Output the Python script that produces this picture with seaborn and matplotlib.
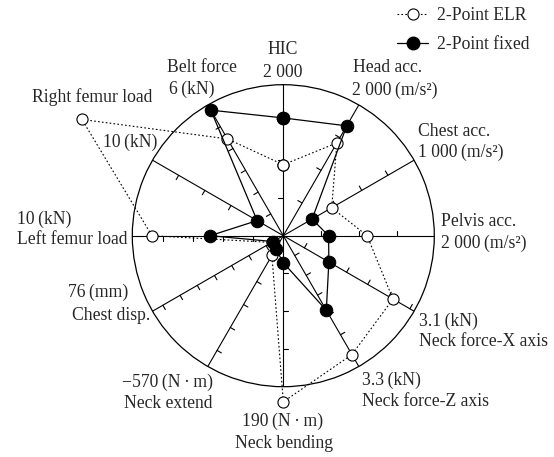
import numpy as np
import pandas as pd
import matplotlib
matplotlib.use("Agg")
import matplotlib.pyplot as plt
from matplotlib.lines import Line2D
import seaborn as sns

# ---- data ----
axes_names = ["HIC", "Head acc.", "Chest acc.", "Pelvis acc.", "Neck force-X axis",
              "Neck force-Z axis", "Neck bending", "Neck extend", "Chest disp.",
              "Left femur load", "Right femur load", "Belt force"]
axis_max = [2000, 2000, 1000, 2000, 3.1, 3.3, 190, -570, 76, 10, 10, 6]
tick_step = [500, 500, 200, 500, 0.5, 0.5, 47.5, 100, 10, 2, 2, 1]
elr_values = [940, 1420, 370, 1110, 2.6, 3.0, 209, -86, 6.8, 8.7, 15.4, 4.44]
fixed_values = [1560, 1680, 220, 600, 1.08, 1.88, 34, -57, 5.9, 4.85, 2.0, 5.76]
series_names = ["2-Point ELR", "2-Point fixed"]

# ---- style ----
sns.set_style("white")
plt.rcParams["font.family"] = ["Liberation Serif", "DejaVu Serif"]

W, H = 554, 457
fig = plt.figure(figsize=(W / 100, H / 100), dpi=100)
cx, cy, R = 283.3, 235.7, 151
ax = fig.add_axes([(cx - R) / W, 1 - (cy + R) / H, 2 * R / W, 2 * R / H], projection="polar")
ax.set_theta_offset(np.pi / 2)
ax.set_theta_direction(-1)

n = len(axes_names)
theta = np.arange(n) * 2 * np.pi / n

# axis spokes and ticks
tick_len = 5.0 / R
for i in range(n):
    th = theta[i]
    ax.plot([th, th], [0, 1], color="black", lw=0.8, zorder=1)
    mx = abs(axis_max[i])
    v = tick_step[i]
    while v < mx * 0.999:
        r = v / mx
        dth = np.arctan(tick_len / r)
        ax.plot([th, th - dth], [r, np.hypot(r, tick_len)], color="black", lw=0.8, zorder=1)
        v += tick_step[i]

# series
rows = []
for name, vals in zip(series_names, [elr_values, fixed_values]):
    for i in list(range(n)) + [0]:
        rows.append({"series": name, "theta": theta[i], "r": vals[i] / axis_max[i]})
df = pd.DataFrame(rows)

elr = df[df.series == "2-Point ELR"]
fixed = df[df.series == "2-Point fixed"]
sns.lineplot(data=elr, x="theta", y="r", sort=False, estimator=None, ax=ax,
             color="black", lw=0.8, linestyle=(0, (1.5, 2.0)), marker="o", markersize=8,
             markerfacecolor="white", markeredgecolor="black", markeredgewidth=0.8,
             clip_on=False, zorder=3, legend=False)
sns.lineplot(data=fixed, x="theta", y="r", sort=False, estimator=None, ax=ax,
             color="black", lw=0.9, marker="o", markersize=9,
             markerfacecolor="black", markeredgecolor="black",
             clip_on=False, zorder=4, legend=False)
ax.set_xlabel("")
ax.set_ylabel("")
ax.set_xticks([])
ax.set_yticks([])
ax.set_ylim(0, 1)
ax.grid(False)
ax.spines["polar"].set_linewidth(0.9)
ax.spines["polar"].set_color("black")

# labels
fs = 12.7
ts = "\u2009"
def t(s, x, y, ha):
    fig.text(x / W, 1 - y / H, s, ha=ha, va="center", fontsize=fs)

def u(s):
    return s.replace("(", ts + "(").replace("\u00b7", ts + "\u00b7" + ts)

t("HIC", 283, 50, "center"); t("2 000", 283, 72, "center")
t("Belt force", 202, 67, "center"); t(u("6(kN)"), 192, 89, "center")
t("Head acc.", 353, 68, "left"); t(u("2 000(m/s²)"), 352, 90, "left")
t("Chest acc.", 418, 131, "left"); t(u("1 000(m/s²)"), 418, 152, "left")
t("Pelvis acc.", 441, 222, "left"); t(u("2 000(m/s²)"), 441, 243, "left")
t(u("3.1(kN)"), 419, 321, "left"); t("Neck force-X axis", 419, 342, "left")
t(u("3.3(kN)"), 362, 380, "left"); t("Neck force-Z axis", 362, 401, "left")
t(u("190(N·m)"), 283, 421, "center"); t("Neck bending", 284, 443, "center")
t(u("\u2212570(N·m)"), 213, 382, "right"); t("Neck extend", 213, 403, "right")
t(u("76(mm)"), 128, 292, "right"); t("Chest disp.", 150, 315, "right")
t(u("10(kN)"), 17, 219, "left"); t("Left femur load", 17, 240, "left")
t("Right femur load", 32, 97, "left"); t(u("10(kN)"), 157, 142, "right")

# legend
handles = [
    Line2D([], [], color="black", lw=0.8, linestyle=(0, (1.5, 2.0)), marker="o", markersize=8,
           markerfacecolor="white", markeredgecolor="black", markeredgewidth=0.8),
    Line2D([], [], color="black", lw=0.9, marker="o", markersize=9,
           markerfacecolor="black", markeredgecolor="black"),
]
fig.legend(handles, series_names, loc="upper left", bbox_to_anchor=(397 / W, 1 - 7 / H),
           frameon=False, fontsize=fs, handlelength=1.76, handletextpad=0.51, labelspacing=0.7,
           borderaxespad=0, borderpad=0)

fig.savefig("out.png", dpi=100)
